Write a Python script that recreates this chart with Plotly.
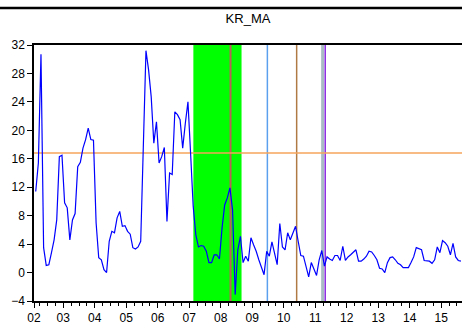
import plotly.graph_objects as go
import pandas as pd

# ---- data ----
start_month = "2002-02"
kr_ma = [
    11.4, 15.4, 30.7, 3.5, 1.0, 1.1, 2.8, 4.6, 7.4, 16.3,
    16.5, 9.8, 9.1, 4.6, 7.4, 8.3, 14.9, 15.5, 17.5, 18.7,
    20.3, 18.7, 18.6, 7.0, 2.1, 1.8, 0.4, 0.0, 4.4, 5.8,
    5.6, 7.7, 8.6, 6.5, 6.6, 5.8, 5.4, 3.5, 3.3, 3.6,
    4.4, 18.0, 31.2, 28.5, 24.7, 18.2, 21.2, 15.4, 16.3, 17.6,
    7.2, 14.0, 13.8, 22.6, 22.2, 21.5, 17.5, 21.0, 24.0, 16.8,
    9.3, 5.3, 3.6, 3.8, 3.7, 3.0, 1.4, 1.4, 2.5, 2.5,
    1.9, 6.3, 9.5, 10.5, 11.9, 8.8, -3.1, 3.2, 5.1, 1.4,
    2.3, 1.6, 4.9, 3.9, 3.0, 1.8, 0.8, -0.3, 3.0, 2.3,
    4.3, 2.9, 1.1, 6.9, 3.6, 3.2, 5.6, 4.6, 5.6, 6.5,
    4.4, 2.4, 2.3, 0.9, -0.6, 1.4, 0.5, -0.4, 1.8, 3.1,
    0.9, 2.2, 1.9, 1.7, 2.4, 2.4, 1.7, 3.7, 1.7, 2.2,
    2.5, 2.8, 3.2, 1.6, 1.6, 1.9, 2.3, 3.0, 2.9, 2.4,
    1.8, 0.6, 0.5, 0.0, 1.4, 2.1, 2.2, 1.8, 1.3, 1.1,
    0.7, 0.7, 0.7, 1.4, 2.2, 3.5, 3.3, 3.2, 1.7, 1.7,
    1.6, 1.3, 1.8, 3.6, 2.8, 4.5, 4.2, 3.7, 2.5, 4.1,
    2.2, 1.7, 1.6,
]
threshold = 16.8
shade_period = [2007.13, 2008.66]
event_dates = [2008.31, 2009.48, 2010.41, 2011.235, 2011.317]
event_colors = ["#b8605a", "#5aa0ee", "#b07a45", "#a9bcc4", "#8a2be2"]
event_widths = [2, 1.5, 1.5, 3, 1.5]
year_ticks = list(range(2003, 2016))
year_labels = ["%02d" % (y % 100) for y in year_ticks]

# ---- build ----
periods = pd.period_range(start_month, periods=len(kr_ma), freq="M")
x = [p.year + (p.month - 0.5) / 12 for p in periods]

x_lo, x_hi = 2002.07, 2015.66

fig = go.Figure()
fig.add_trace(go.Scatter(x=x, y=kr_ma, mode="lines",
                         line=dict(color="#0000ff", width=1.2),
                         showlegend=False, hoverinfo="skip"))

shapes = [dict(type="rect", xref="x", yref="paper",
               x0=shade_period[0], x1=shade_period[1], y0=0, y1=1,
               fillcolor="#00ff00", line=dict(width=0), layer="below")]
for d, c, w in zip(event_dates, event_colors, event_widths):
    shapes.append(dict(type="line", xref="x", yref="paper", x0=d, x1=d,
                       y0=0, y1=1, line=dict(color=c, width=w), layer="below"))
shapes.append(dict(type="line", xref="paper", yref="y", x0=0, x1=1,
                   y0=threshold, y1=threshold,
                   line=dict(color="#f5a55a", width=1.5), layer="below"))
# separator line at top of the image
shapes.append(dict(type="line", xref="paper", yref="paper", x0=-0.1, x1=1.1,
                   y0=1.145, y1=1.145, line=dict(color="black", width=2.5)))

fig.update_layout(
    width=462, height=324,
    margin=dict(l=34, r=0, t=45, b=23),
    paper_bgcolor="white", plot_bgcolor="white",
    font=dict(family="Liberation Sans, Arial, sans-serif", size=12, color="black"),
    shapes=shapes,
    title=dict(text="KR_MA", x=(34 + 462) / 2 / 462, xanchor="center",
               y=1 - 18 / 324, yanchor="middle",
               font=dict(size=13, color="black")),
    xaxis=dict(range=[x_lo, x_hi], tickmode="array",
               tickvals=[x_lo] + year_ticks, ticktext=["02"] + year_labels,
               ticks="outside", ticklen=5, tickwidth=1, tickcolor="black",
               showline=True, linecolor="black", linewidth=1.5, mirror=True,
               showgrid=False, zeroline=False,
               minor=dict(tickmode="linear", tick0=2002, dtick=0.25,
                          ticks="outside", ticklen=3, tickcolor="black"),
               tickfont=dict(size=12)),
    yaxis=dict(range=[-4, 32], tickmode="linear", tick0=-4, dtick=4,
               ticks="outside", ticklen=5, tickwidth=1, tickcolor="black",
               showline=True, linecolor="black", linewidth=1.5,
               showgrid=False, zeroline=False, tickfont=dict(size=12)),
)

fig.write_html("out.html")
